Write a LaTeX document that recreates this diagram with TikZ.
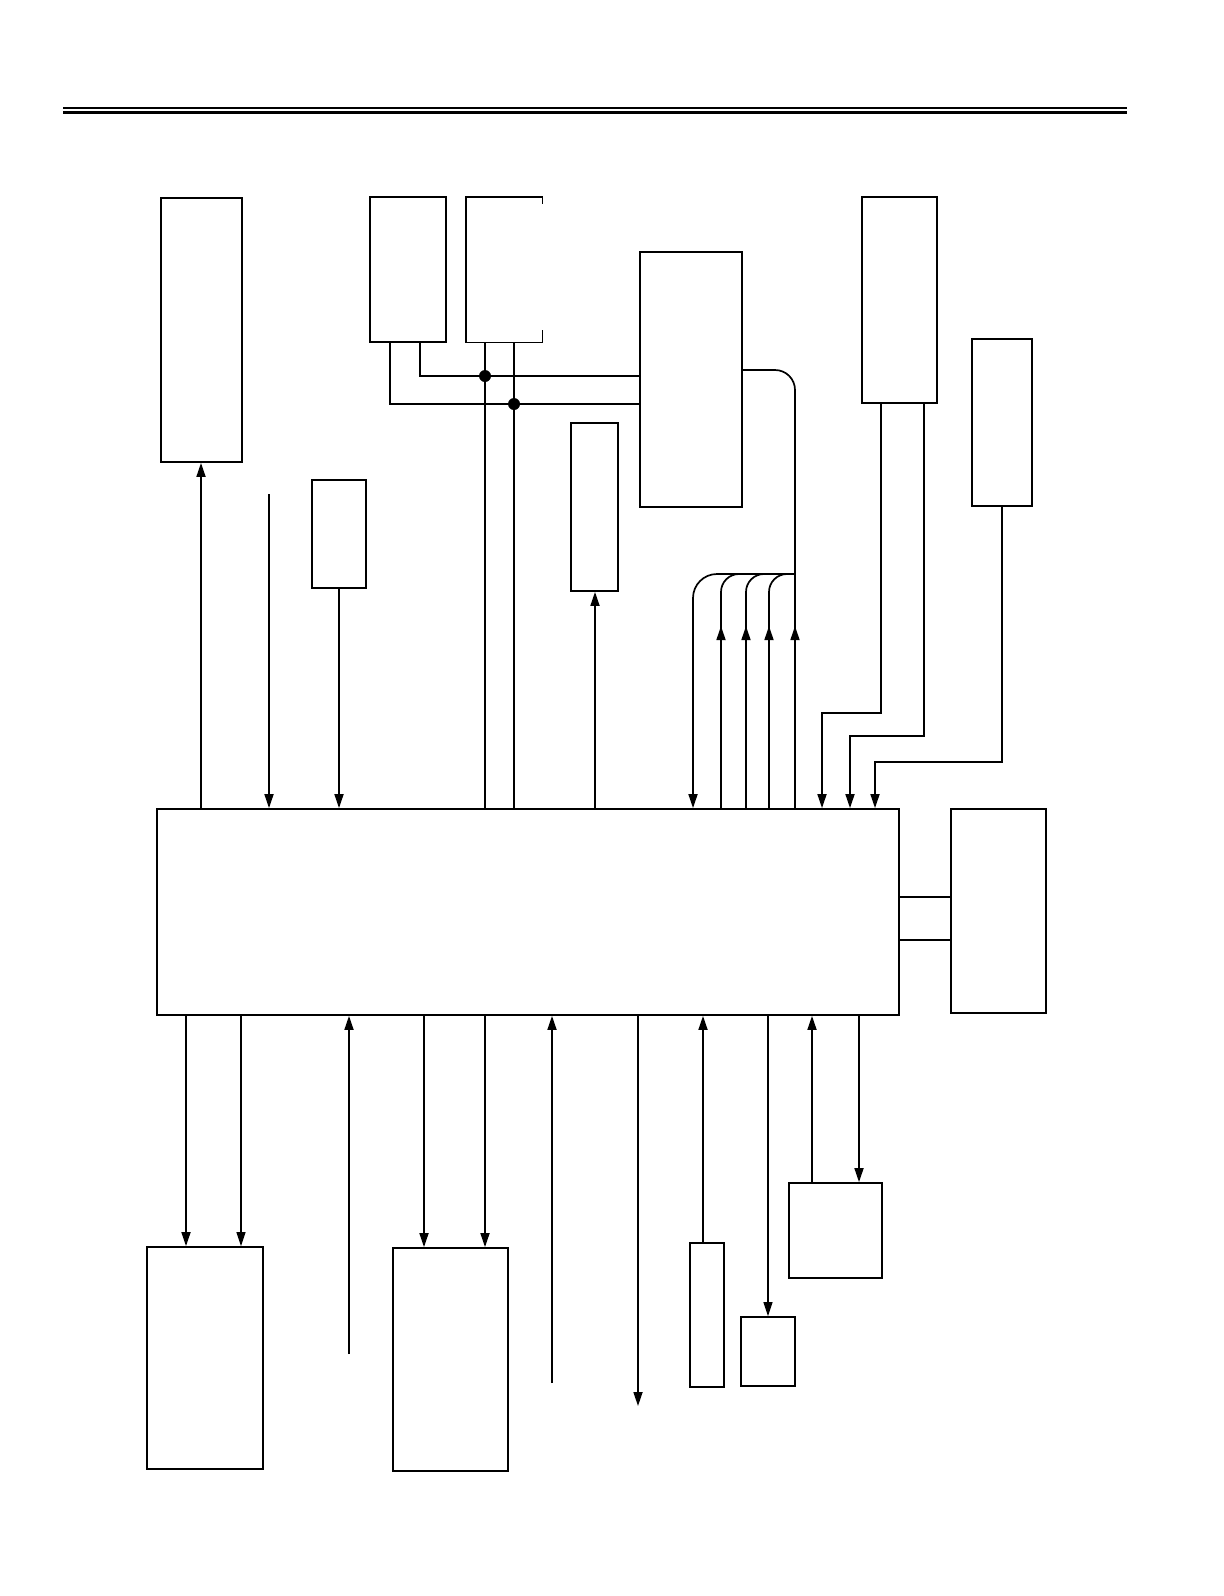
\documentclass[tikz,border=0pt]{standalone}
\usepackage{tikz}
\usetikzlibrary{arrows.meta,fit,decorations.markings}

\begin{document}
\begin{tikzpicture}[
    x=0.5pt, y=-0.5pt,
    block/.style={draw=black, line width=0.9pt, inner sep=0pt},
    frame/.style={inner sep=0pt},
    wire/.style={line width=0.85pt},
    thinwire/.style={line width=0.55pt},
    arrow/.style={-{Triangle[length=7pt,width=4.5pt]}, line width=0.85pt},
    thinarrow/.style={arrow, line width=0.55pt},
    uptip/.style={postaction={decorate}, decoration={markings,
      mark=at position 91pt with {\arrow{Triangle[length=7pt,width=4.5pt]}}}}
  ]
    \useasboundingbox (0,0) rectangle (1224,1596);
    \draw[line width=0.6pt] (63,108) -- (1127,108);
    \draw[line width=1.6pt] (63,112.5) -- (1127,112.5);

    \node[block, fit={(161,198) (242,462)}] (topl) {};
    \node[block, fit={(370,197) (446,342)}] (b1) {};
    \node[frame, fit={(466,197) (542,342)}] (b2) {};
    \node[block, fit={(640,252) (742,507)}] (boxC) {};
    \node[block, fit={(862,197) (937,403)}] (boxD) {};
    \node[block, fit={(972,339) (1032,506)}] (boxE) {};
    \node[block, fit={(312,480) (366,588)}] (boxF) {};
    \node[block, fit={(571,423) (618,591)}] (boxG) {};
    \node[block, fit={(157,809) (899,1015)}] (main) {};
    \node[block, fit={(951,809) (1046,1013)}] (boxH) {};
    \node[block, fit={(147,1247) (263,1469)}] (boxI) {};
    \node[block, fit={(393,1248) (508,1471)}] (boxJ) {};
    \node[block, fit={(690,1243) (724,1387)}] (boxK) {};
    \node[block, fit={(741,1317) (795,1386)}] (boxL) {};
    \node[block, fit={(789,1183) (882,1278)}] (boxM) {};

    \draw[line width=0.9pt] ([yshift=-3.5pt]b2.north east) -- (b2.north east)
      -- (b2.north west) -- (b2.south west) -- (b2.south east) -- ([yshift=6pt]b2.south east);

    \coordinate (dotA) at (485,376);
    \coordinate (dotB) at (514,404);
    \coordinate (jn) at (795,574);
    \coordinate (cOut) at (boxC.east |- 0,370);
    \coordinate (inA) at (269,494);
    \coordinate (inB) at (349,1354);
    \coordinate (inC) at (552,1383);
    \coordinate (outA) at (638,1406);

    \draw[arrow] (201,0 |- main.north) -- (201,0 |- topl.south);
    \draw[arrow] (inA) -- (inA |- main.north);
    \draw[arrow] (boxF.south) -- (boxF.south |- main.north);
    \draw[wire] ([xshift=25.5pt]b1.south west) |- (dotA) -- (dotA -| boxC.west);
    \draw[wire] ([xshift=10.5pt]b1.south west) |- (dotB) -- (dotB -| boxC.west);
    \draw[wire] (dotA |- b2.south) -- (dotA |- main.north);
    \draw[thinwire] (dotB |- b2.south) -- (dotB |- main.north);
    \fill (dotA) circle[radius=3pt];
    \fill (dotB) circle[radius=3pt];
    \draw[arrow] (595,0 |- main.north) -- (595,0 |- boxG.south);

    \draw[wire, rounded corners=10pt, uptip] (jn |- main.north) |- (cOut);
    \foreach \bx in {721,746,769}
      \draw[wire, rounded corners=9pt, uptip] (\bx,0 |- main.north) |- (jn);
    \draw[arrow, rounded corners=12pt] (jn) -| (693,0 |- main.north);

    \draw[arrow] ([xshift=10pt]boxD.south west) |- (822,713) -- (822,0 |- main.north);
    \draw[arrow] ([xshift=-7pt]boxD.south east) |- (850,736) -- (850,0 |- main.north);
    \draw[arrow] (boxE.south) |- (875,762) -- (875,0 |- main.north);

    \draw[wire] (main.east |- 0,897) -- (boxH.west |- 0,897);
    \draw[wire] (main.east |- 0,940) -- (boxH.west |- 0,940);

    \draw[arrow] (186,0 |- main.south) -- (186,0 |- boxI.north);
    \draw[thinarrow] (241,0 |- main.south) -- (241,0 |- boxI.north);
    \draw[arrow] (inB) -- (inB |- main.south);
    \draw[arrow] (424,0 |- main.south) -- (424,0 |- boxJ.north);
    \draw[arrow] (485,0 |- main.south) -- (485,0 |- boxJ.north);
    \draw[arrow] (inC) -- (inC |- main.south);
    \draw[arrow] (outA |- main.south) -- (outA);
    \draw[arrow] (703,0 |- boxK.north) -- (703,0 |- main.south);
    \draw[thinarrow] (boxL.north |- main.south) -- (boxL.north);
    \draw[arrow] (812,0 |- boxM.north) -- (812,0 |- main.south);
    \draw[arrow] (859,0 |- main.south) -- (859,0 |- boxM.north);
  \end{tikzpicture}
\end{document}
